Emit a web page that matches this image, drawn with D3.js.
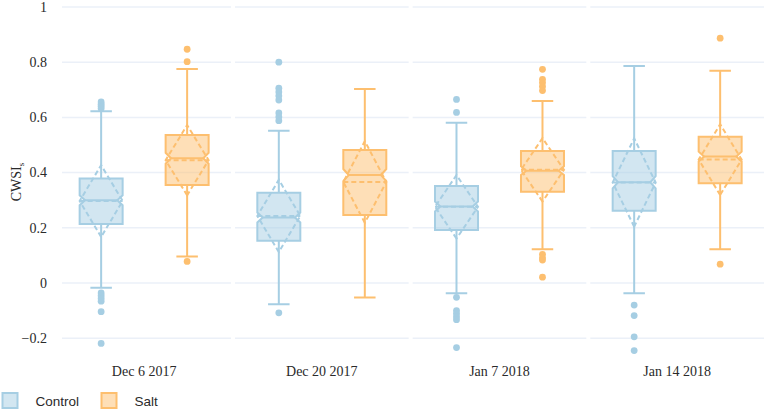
<!DOCTYPE html>
<html><head><meta charset="utf-8">
<script src="https://cdn.jsdelivr.net/npm/d3@7"></script>
<style>body{margin:0;background:#fff}svg{display:block}</style>
</head><body>
<svg id="chart" width="767" height="411"></svg>
<script>
const categories = ["Dec 6 2017", "Dec 20 2017", "Jan 7 2018", "Jan 14 2018"];
const groups = ["Control", "Salt"];
const colors = ["#a6cee3", "#fdbf6f"];
const yTicks = [-0.2, 0, 0.2, 0.4, 0.6, 0.8, 1];

// Control statistics per date
const q1Control = [0.214, 0.153, 0.192, 0.262];
const medianControl = [0.300, 0.237, 0.277, 0.365];
const q3Control = [0.379, 0.327, 0.351, 0.478];
const lowerFenceControl = [-0.017, -0.077, -0.037, -0.037];
const upperFenceControl = [0.622, 0.552, 0.581, 0.786];
const meanControl = [0.297, 0.243, 0.276, 0.364];
const sdControl = [0.130, 0.131, 0.115, 0.160];
const notchControl = [0.018, 0.018, 0.018, 0.022];
const outliersControl = [
  [0.656, 0.648, 0.640, 0.632, -0.036, -0.046, -0.056, -0.066, -0.104, -0.219],
  [0.800, 0.706, 0.692, 0.678, 0.663, 0.616, 0.602, 0.588, -0.108],
  [0.665, 0.618, -0.052, -0.100, -0.111, -0.122, -0.133, -0.234],
  [-0.080, -0.118, -0.195, -0.245]
];

// Salt statistics per date
const q1Salt = [0.355, 0.246, 0.331, 0.361];
const medianSalt = [0.452, 0.391, 0.407, 0.458];
const q3Salt = [0.536, 0.482, 0.478, 0.530];
const lowerFenceSalt = [0.096, -0.053, 0.122, 0.122];
const upperFenceSalt = [0.775, 0.703, 0.659, 0.769];
const meanSalt = [0.445, 0.366, 0.410, 0.447];
const sdSalt = [0.127, 0.148, 0.115, 0.128];
const notchSalt = [0.020, 0.022, 0.016, 0.018];
const outliersSalt = [
  [0.847, 0.802, 0.078],
  [],
  [0.774, 0.738, 0.726, 0.712, 0.697, 0.104, 0.091, 0.083, 0.021],
  [0.887, 0.068]
];

const stats = [
  {q1: q1Control, med: medianControl, q3: q3Control, lf: lowerFenceControl, uf: upperFenceControl, mean: meanControl, sd: sdControl, notch: notchControl, out: outliersControl},
  {q1: q1Salt, med: medianSalt, q3: q3Salt, lf: lowerFenceSalt, uf: upperFenceSalt, mean: meanSalt, sd: sdSalt, notch: notchSalt, out: outliersSalt}
];

const svg = d3.select("#chart");
const x = d3.scaleBand().domain(categories).range([55.3, 766]);
const xg = d3.scaleBand().domain(groups).range([0, x.bandwidth()]).paddingInner(0.0);
const y = d3.scaleLinear().domain([-0.27, 1]).range([357.5, 7]);

const gridLeft = 62, gridRight = 764;
const serif = "'Liberation Serif', 'Times New Roman', serif";
const sans = "'Liberation Sans', Arial, sans-serif";

// horizontal grid
svg.append("g").selectAll("line").data(yTicks).join("line")
  .attr("x1", gridLeft).attr("x2", gridRight)
  .attr("y1", d => y(d)).attr("y2", d => y(d))
  .attr("stroke", "#ebf0f8").attr("stroke-width", 1.5);

// white separators at category boundaries
svg.append("g").selectAll("line").data(categories.slice(1)).join("line")
  .attr("x1", d => x(d)).attr("x2", d => x(d))
  .attr("y1", 0).attr("y2", 360)
  .attr("stroke", "#fff").attr("stroke-width", 4);

// y tick labels
svg.append("g").selectAll("text").data(yTicks).join("text")
  .attr("x", 47).attr("y", d => y(d)).attr("dy", "0.35em")
  .attr("text-anchor", "end")
  .attr("font-family", serif).attr("font-size", 14).attr("fill", "#2a2a2a")
  .text(d => d3.format("~g")(d).replace("-", "\u2212"));

// x tick labels
svg.append("g").selectAll("text").data(categories).join("text")
  .attr("x", d => x(d) + x.bandwidth() / 2).attr("y", 376)
  .attr("text-anchor", "middle")
  .attr("font-family", serif).attr("font-size", 14).attr("fill", "#2a2a2a")
  .text(d => d);

// y title
const yt = svg.append("text")
  .attr("transform", "translate(21,182) rotate(-90)")
  .attr("text-anchor", "middle")
  .attr("font-family", serif).attr("font-size", 14).attr("fill", "#2a2a2a");
yt.append("tspan").text("CWSI");
yt.append("tspan").attr("dy", 3).attr("font-size", 9).text("s");

const offset = x.bandwidth() * 0.242;
const halfW = x.bandwidth() * 0.121;
const capHalf = halfW * 0.5;
const nw = 0.75;

groups.forEach((g, gi) => {
  const s = stats[gi];
  const col = colors[gi];
  const layer = svg.append("g");
  categories.forEach((c, ci) => {
    const cx = x(c) + x.bandwidth() / 2 + (gi === 0 ? -offset : offset);
    const p0 = cx - halfW, p1 = cx + halfW;
    const pm0 = cx - halfW * nw, pm1 = cx + halfW * nw;
    const q1 = y(s.q1[ci]), q3 = y(s.q3[ci]), m = y(s.med[ci]);
    const ln = y(s.med[ci] - s.notch[ci]), un = y(s.med[ci] + s.notch[ci]);
    const lf = y(s.lf[ci]), uf = y(s.uf[ci]);
    const boxPath = `M${p0},${ln}V${q1}H${p1}V${ln}L${pm1},${m}L${p1},${un}V${q3}H${p0}V${un}L${pm0},${m}Z`;
    // whiskers
    layer.append("path")
      .attr("d", `M${cx},${q1}V${lf}M${cx},${q3}V${uf}M${cx - capHalf},${lf}H${cx + capHalf}M${cx - capHalf},${uf}H${cx + capHalf}`)
      .attr("stroke", col).attr("stroke-width", 2).attr("fill", "none");
    // box
    layer.append("path").attr("d", boxPath)
      .attr("fill", col).attr("fill-opacity", 0.5)
      .attr("stroke", col).attr("stroke-width", 2).attr("stroke-linejoin", "miter");
    // median
    layer.append("path").attr("d", `M${pm0},${m}H${pm1}`)
      .attr("stroke", col).attr("stroke-width", 2);
    // mean & sd diamond
    const mu = y(s.mean[ci]), sl = y(s.mean[ci] - s.sd[ci]), sh = y(s.mean[ci] + s.sd[ci]);
    layer.append("path")
      .attr("d", `M${cx},${sl}L${p0},${mu}L${cx},${sh}L${p1},${mu}ZM${p0},${mu}H${p1}`)
      .attr("fill", "none").attr("stroke", col).attr("stroke-width", 2)
      .attr("stroke-dasharray", "5,3");
    // outliers
    layer.selectAll(null).data(s.out[ci]).join("circle")
      .attr("cx", cx).attr("cy", d => y(d)).attr("r", 3.4)
      .attr("fill", col);
  });
});

// legend
const legendX = [2.5, 101.5];
groups.forEach((g, gi) => {
  const lg = svg.append("g").attr("transform", `translate(${legendX[gi]},393)`);
  lg.append("rect").attr("x", 0).attr("y", 0).attr("width", 15).attr("height", 15)
    .attr("fill", colors[gi]).attr("fill-opacity", 0.5)
    .attr("stroke", colors[gi]).attr("stroke-width", 2);
  lg.append("text").attr("x", 33).attr("y", 12.5)
    .attr("font-family", sans).attr("font-size", 13.5).attr("fill", "#2a2a2a")
    .text(g);
});
</script>
</body></html>
